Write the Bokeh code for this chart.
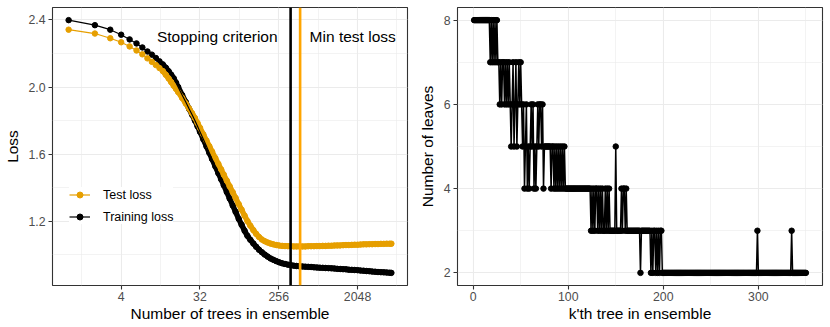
import numpy as np
from bokeh.plotting import figure
from bokeh.layouts import row
from bokeh.models import (Range1d, FixedTicker, Span, Label, Legend, LegendItem,
                          CustomJSTickFormatter)
from bokeh.embed import file_html
from bokeh.resources import INLINE

# ---------------- data: left panel ----------------
n_trees = [1, 2, 3, 4, 5, 6, 7, 8, 9, 10, 11, 12, 13, 14, 15, 16, 17, 18,
           20, 22, 24, 26, 28, 30, 32,
           35, 38, 41, 44, 48, 52, 56, 60, 65, 70, 76, 82, 89, 96,
           104, 112, 121, 131, 141, 152, 164, 177, 191, 206, 222, 240, 259, 280,
           302, 326, 352, 380, 410, 443, 478, 516, 557, 601, 649, 701, 757, 817, 882, 952,
           1028, 1110, 1199, 1295, 1398, 1510, 1630, 1760, 1900,
           2052, 2216, 2393, 2584, 2790, 3013, 3254, 3514, 3795,
           4098, 4425, 4779, 5000]
train_loss = [2.399, 2.369, 2.342, 2.312, 2.284, 2.260, 2.236, 2.212, 2.193, 2.173, 2.153, 2.135,
              2.115, 2.094, 2.073, 2.052, 2.026, 2.000,
              1.952, 1.910, 1.870, 1.835, 1.800, 1.766, 1.733,
              1.688, 1.646, 1.607, 1.571, 1.527, 1.486, 1.449, 1.414, 1.373, 1.335, 1.293, 1.255, 1.213, 1.178,
              1.142, 1.112, 1.088, 1.066, 1.047, 1.029, 1.014, 1.000, 0.988, 0.977, 0.969, 0.961, 0.954, 0.948,
              0.944, 0.940, 0.937, 0.934, 0.932, 0.930, 0.929, 0.928, 0.927, 0.926, 0.924, 0.923, 0.922, 0.921, 0.920, 0.919,
              0.918, 0.917, 0.915, 0.914, 0.913, 0.912, 0.910, 0.909, 0.908,
              0.907, 0.905, 0.904, 0.902, 0.901, 0.899, 0.898, 0.896, 0.895,
              0.894, 0.893, 0.892, 0.891]
test_loss = [2.342, 2.319, 2.291, 2.267, 2.242, 2.218, 2.195, 2.171, 2.150, 2.131, 2.113, 2.095,
             2.073, 2.051, 2.029, 2.008, 1.989, 1.970,
             1.935, 1.902, 1.872, 1.843, 1.815, 1.785, 1.757,
             1.717, 1.680, 1.646, 1.615, 1.576, 1.541, 1.508, 1.477, 1.441, 1.408, 1.372, 1.338, 1.301, 1.268,
             1.232, 1.200, 1.172, 1.146, 1.124, 1.105, 1.090, 1.080, 1.072, 1.066, 1.061, 1.057, 1.054, 1.052,
             1.051, 1.050, 1.050, 1.049, 1.049, 1.049, 1.049, 1.049, 1.050, 1.050, 1.050, 1.051, 1.051, 1.052, 1.052, 1.053,
             1.053, 1.054, 1.055, 1.055, 1.056, 1.057, 1.057, 1.058, 1.059,
             1.059, 1.060, 1.061, 1.061, 1.062, 1.062, 1.063, 1.063, 1.064,
             1.064, 1.065, 1.065, 1.065]
stop_n = 350
min_test_n = 450
left_x_ticks = [4, 32, 256, 2048]
left_x_minor = [2 ** 0.5, 2 ** 3.5, 2 ** 6.5, 2 ** 9.5, 2 ** 12.5]
left_y_ticks = [1.2, 1.6, 2.0, 2.4]
left_y_minor = [1.0, 1.4, 1.8, 2.2]

# ---------------- data: right panel (run-length encoded) ----------------
leaf_values = [8, 7, 8, 7, 8, 7, 8, 7, 8, 7, 6, 7, 6, 7, 6, 7, 6, 7, 6, 7, 6, 5, 6, 7, 5, 6, 7, 5, 6, 7,
               6, 7, 6, 5, 6, 4, 5, 6, 4, 5, 4, 5, 6, 5, 6, 4, 5, 4, 5, 6, 5, 6, 5, 6, 4, 5, 4, 5, 4, 5,
               4, 5, 4, 5, 4, 5, 4, 5, 4, 5, 4, 3, 4, 3, 4, 3, 4, 3, 4, 3, 4, 3, 4, 3, 4, 3, 4, 3, 4, 3,
               5, 3, 4, 3, 4, 3, 4, 3, 2, 3, 2, 3, 2, 3, 2, 3, 2, 3, 2, 3, 2, 3, 2, 3, 2]
leaf_runs = [17, 1, 1, 1, 1, 1, 1, 1, 1, 2, 1, 1, 1, 2, 1, 1, 1, 1, 1, 1, 1, 1, 1, 1, 1, 1, 1, 1, 1, 1,
             1, 1, 1, 1, 1, 1, 1, 1, 1, 1, 1, 1, 1, 1, 1, 1, 1, 1, 1, 1, 1, 2, 1, 1, 1, 7, 1, 2, 1, 1,
             1, 1, 1, 1, 1, 1, 1, 1, 1, 1, 27, 1, 1, 1, 1, 1, 2, 1, 1, 1, 1, 1, 1, 2, 1, 1, 1, 1, 1, 6,
             1, 5, 1, 1, 2, 1, 1, 14, 1, 10, 1, 1, 1, 2, 1, 1, 1, 1, 1, 2, 100, 1, 35, 1, 15]
right_x_ticks = [0, 100, 200, 300]
right_x_minor = [50, 150, 250, 350]
right_y_ticks = [2, 4, 6, 8]
right_y_minor = [3, 5, 7]

ORANGE = "#E69F00"
VORANGE = "#FFA500"
FONT = "Liberation Sans"


def style(p, xlabel, ylabel, ylab_standoff):
    p.background_fill_color = "white"
    p.border_fill_color = "white"
    p.outline_line_color = "#333333"
    p.outline_line_width = 1.1
    p.xaxis.axis_label = xlabel
    p.yaxis.axis_label = ylabel
    for ax in (p.xaxis[0], p.yaxis[0]):
        ax.axis_line_color = None
        ax.major_tick_line_color = "#333333"
        ax.major_tick_line_width = 1.1
        ax.major_tick_out = 4
        ax.major_tick_in = 0
        ax.minor_tick_out = 0
        ax.minor_tick_in = 0
        ax.major_label_text_color = "#4D4D4D"
        ax.major_label_text_font = FONT
        ax.major_label_text_font_size = "12.3px"
        ax.axis_label_text_font = FONT
        ax.axis_label_text_font_size = "15.5px"
        ax.axis_label_text_font_style = "normal"
        ax.axis_label_text_color = "black"
    p.xaxis.major_label_standoff = 2
    p.yaxis.major_label_standoff = 3
    p.xaxis.axis_label_standoff = 1
    p.yaxis.axis_label_standoff = ylab_standoff
    p.grid.grid_line_color = "#EBEBEB"
    p.grid.grid_line_width = 1.1
    p.grid.minor_grid_line_color = "#EBEBEB"
    p.grid.minor_grid_line_width = 0.6


# ---------------- left panel ----------------
lx = np.log2(n_trees)
xpad = 0.05 * (lx.max() - lx.min())
all_loss = np.array(train_loss + test_loss)
ypad = 0.05 * (all_loss.max() - all_loss.min())
p1 = figure(width=415, height=327, x_axis_type="log",
            x_range=Range1d(2 ** (lx.min() - xpad), 2 ** (lx.max() + xpad)),
            y_range=Range1d(all_loss.min() - ypad, all_loss.max() + ypad),
            output_backend="svg", toolbar_location=None,
            min_border_left=52, min_border_right=8, min_border_top=7, min_border_bottom=42)
style(p1, "Number of trees in ensemble", "Loss", 4)
p1.xaxis.ticker = FixedTicker(ticks=left_x_ticks, minor_ticks=left_x_minor)
p1.yaxis.ticker = FixedTicker(ticks=left_y_ticks, minor_ticks=left_y_minor)
p1.xaxis.formatter = CustomJSTickFormatter(code="return Math.round(tick).toString();")
p1.yaxis.formatter = CustomJSTickFormatter(code="return tick.toFixed(1);")

dense = slice(11, None)  # where the per-tree points merge into a solid band
p1.line(n_trees[dense], train_loss[dense], line_width=5.5, color="black",
        line_join="round", line_cap="round")
r_train_pts = p1.scatter(n_trees, train_loss, size=5.5, color="black")
p1.line(n_trees[dense], test_loss[dense], line_width=5.5, color=ORANGE,
        line_join="round", line_cap="round")
r_test_pts = p1.scatter(n_trees, test_loss, size=5.5, color=ORANGE)
r_test_line = p1.line(n_trees, test_loss, line_width=1.2, color=ORANGE)
r_train_line = p1.line(n_trees, train_loss, line_width=1.2, color="black")

p1.add_layout(Span(location=stop_n, dimension="height", line_color="black", line_width=2.6))
p1.add_layout(Span(location=min_test_n, dimension="height", line_color=VORANGE, line_width=2.6))
p1.add_layout(Label(x=stop_n, y=2.3, x_offset=-13, text="Stopping criterion", text_align="right",
                    text_baseline="middle", text_font=FONT, text_font_size="15.5px", text_color="black"))
p1.add_layout(Label(x=min_test_n, y=2.3, x_offset=9.5, text="Min test loss", text_align="left",
                    text_baseline="middle", text_font=FONT, text_font_size="15.5px", text_color="black"))

legend = Legend(items=[LegendItem(label="Test loss", renderers=[r_test_line, r_test_pts]),
                       LegendItem(label="Training loss", renderers=[r_train_line, r_train_pts])],
                location=(17, 61), margin=0, padding=5, spacing=7,
                glyph_width=21, glyph_height=15, label_standoff=13,
                label_text_font=FONT, label_text_font_size="12.5px", label_text_color="black",
                background_fill_color="white", background_fill_alpha=1.0, border_line_color=None)
p1.add_layout(legend)

# ---------------- right panel ----------------
leaves = np.repeat(leaf_values, leaf_runs)
k = np.arange(1, len(leaves) + 1)
kpad = 0.05 * (k.max() - k.min())
lpad = 0.05 * (leaves.max() - leaves.min())
p2 = figure(width=415, height=327,
            x_range=Range1d(k.min() - kpad, k.max() + kpad),
            y_range=Range1d(leaves.min() - lpad, leaves.max() + lpad),
            output_backend="svg", toolbar_location=None,
            min_border_left=42, min_border_right=8, min_border_top=7, min_border_bottom=42)
style(p2, "k'th tree in ensemble", "Number of leaves", 5)
p2.xaxis.ticker = FixedTicker(ticks=right_x_ticks, minor_ticks=right_x_minor)
p2.yaxis.ticker = FixedTicker(ticks=right_y_ticks, minor_ticks=right_y_minor)
p2.line(k, leaves, line_width=1.5, color="black")
p2.scatter(k, leaves, size=5.5, color="black")

layout = row(p1, p2, spacing=0)
open("out.html", "w").write(file_html(layout, INLINE))
